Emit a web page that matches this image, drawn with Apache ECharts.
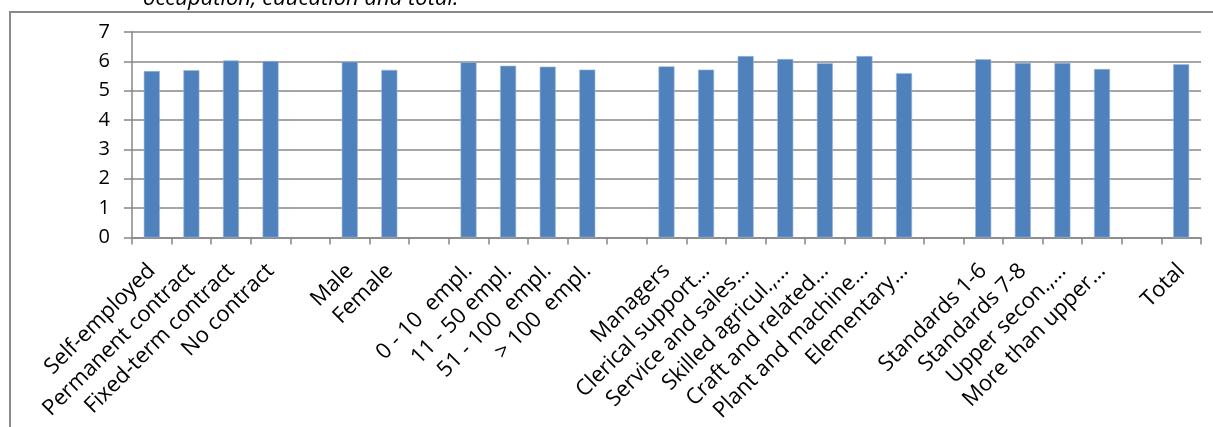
<!DOCTYPE html>
<html>
<head>
<meta charset="utf-8">
<script src="https://cdn.jsdelivr.net/npm/echarts@6/dist/echarts.min.js"></script>
<style>
  html, body { margin: 0; padding: 0; background: #fff; }
  #chart { width: 1213px; height: 427px; }
</style>
</head>
<body>
<div id="chart"></div>
<script>
// Groups are separated by empty categories
const categories = [
  'Self-employed', 'Permanent contract', 'Fixed-term contract', 'No contract', '',
  'Male', 'Female', '',
  '0 - 10  empl.', '11 - 50 empl.', '51 - 100  empl.', '> 100  empl.', '',
  'Managers', 'Clerical support…', 'Service and sales…', 'Skilled agricul.,…',
  'Craft and related…', 'Plant and machine…', 'Elementary…', '',
  'Standards 1-6', 'Standards 7-8', 'Upper secon.,…', 'More than upper…', '',
  'Total'
];
const values = [
  5.67, 5.70, 6.03, 6.01, null,
  5.99, 5.71, null,
  5.97, 5.85, 5.82, 5.72, null,
  5.83, 5.72, 6.18, 6.08, 5.94, 6.18, 5.60, null,
  6.07, 5.95, 5.95, 5.74, null,
  5.90
];
const yTicks = { min: 0, max: 7, step: 1 };
const titleText = 'occupation, education and total.';

const FONT = '"Open Sans", "Noto Sans", sans-serif';
const GRID_GREY = '#878787';

const chart = echarts.init(document.getElementById('chart'), null, { renderer: 'canvas' });
chart.setOption({
  animation: false,
  backgroundColor: '#ffffff',
  grid: { left: 132, right: 12, top: 32, bottom: 189.5, containLabel: false },
  graphic: [
    {
      type: 'rect',
      shape: { x: 10, y: 12, width: 1230, height: 440 },
      style: { fill: 'none', stroke: '#8a8a8a', lineWidth: 2 },
      silent: true
    },
    {
      type: 'text',
      x: 143,
      y: -1,
      style: {
        text: titleText,
        font: 'italic 22px ' + FONT,
        fill: '#000',
        verticalAlign: 'middle'
      },
      silent: true
    }
  ],
  xAxis: {
    type: 'category',
    data: categories,
    boundaryGap: true,
    axisLine: { show: true, lineStyle: { color: GRID_GREY, width: 1.5 } },
    axisTick: { show: true, length: 7, interval: 0, lineStyle: { color: GRID_GREY, width: 1.5 } },
    axisLabel: {
      interval: 0,
      rotate: 45,
      margin: 30,
      color: '#000',
      fontFamily: FONT,
      fontSize: 22
    },
    splitLine: { show: false }
  },
  yAxis: {
    type: 'value',
    min: yTicks.min,
    max: yTicks.max,
    interval: yTicks.step,
    axisLine: { show: true, lineStyle: { color: GRID_GREY, width: 1.5 } },
    axisTick: { show: true, length: 8, lineStyle: { color: GRID_GREY, width: 1.5 } },
    axisLabel: {
      margin: 22,
      color: '#000',
      fontFamily: FONT,
      fontSize: 20
    },
    splitLine: { show: true, lineStyle: { color: GRID_GREY, width: 1.5 } }
  },
  series: [{
    type: 'bar',
    data: values,
    barWidth: 16,
    itemStyle: { color: '#4F81BD', borderColor: '#9DB9DC', borderWidth: 0.6 }
  }]
});
</script>
</body>
</html>
